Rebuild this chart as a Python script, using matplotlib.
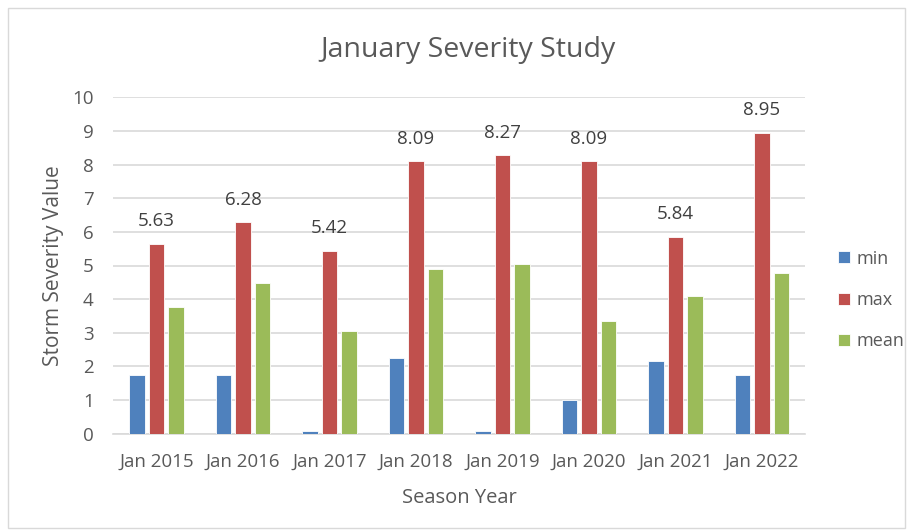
import numpy as np
import matplotlib.pyplot as plt
from matplotlib.patches import Rectangle

years = ["Jan 2015", "Jan 2016", "Jan 2017", "Jan 2018",
         "Jan 2019", "Jan 2020", "Jan 2021", "Jan 2022"]
min_vals = [1.75, 1.75, 0.07, 2.24, 0.07, 0.99, 2.16, 1.75]
max_vals = [5.63, 6.28, 5.42, 8.09, 8.27, 8.09, 5.84, 8.95]
mean_vals = [3.77, 4.47, 3.06, 4.91, 5.03, 3.35, 4.08, 4.79]

plt.rcParams['font.family'] = ['Open Sans', 'DejaVu Sans']
text_color = '#595959'
grid_color = '#d9d9d9'

fig = plt.figure(figsize=(9.13, 5.31), dpi=100)
ax = fig.add_axes([0.124, 0.183, 0.758, 0.634])

x = np.arange(len(years))
w = 0.18
step = 0.225
ax.bar(x - step, min_vals, w, color='#4f81bd', edgecolor='white', linewidth=0.6, label='min', zorder=3)
bars_max = ax.bar(x, max_vals, w, color='#c0504d', edgecolor='white', linewidth=0.6, label='max', zorder=3)
ax.bar(x + step, mean_vals, w, color='#9bbb59', edgecolor='white', linewidth=0.6, label='mean', zorder=3)

for b, v in zip(bars_max, max_vals):
    ax.annotate(f"{v:.2f}", (b.get_x() + b.get_width() / 2, v), xytext=(0, 10),
                textcoords='offset points', ha='center', va='bottom',
                fontsize=13.5, color='#404040')

ax.set_xlim(-0.5, len(years) - 0.5)
ax.set_ylim(0, 10)
ax.set_yticks(range(0, 11))
ax.set_xticks(x)
ax.set_xticklabels(years)
ax.tick_params(axis='both', length=0, labelsize=13.5, colors=text_color)
ax.tick_params(axis='y', pad=14)
ax.tick_params(axis='x', pad=14)
ax.grid(axis='y', color=grid_color, linewidth=1.2, zorder=0)
for s in ['top', 'right', 'left']:
    ax.spines[s].set_visible(False)
ax.spines['bottom'].set_color(grid_color)
ax.spines['bottom'].set_linewidth(1.2)

fig.text(0.512, 0.905, "January Severity Study", fontsize=20.5, color=text_color,
         ha='center', va='center')
ax.set_xlabel("Season Year", fontsize=14.5, color=text_color, labelpad=12)
ax.set_ylabel("Storm Severity Value", fontsize=15, color=text_color, labelpad=6)

fig.legend(loc='center left', bbox_to_anchor=(0.9, 0.435), frameon=False,
           fontsize=13, labelcolor=text_color, handlelength=0.65, handleheight=0.65,
           labelspacing=1.3, handletextpad=0.4)

fig.patches.append(Rectangle((0.009, 0.006), 0.982, 0.979, transform=fig.transFigure,
                             fill=False, edgecolor='#d9d9d9', linewidth=1))

fig.savefig("out.png", dpi=100)
